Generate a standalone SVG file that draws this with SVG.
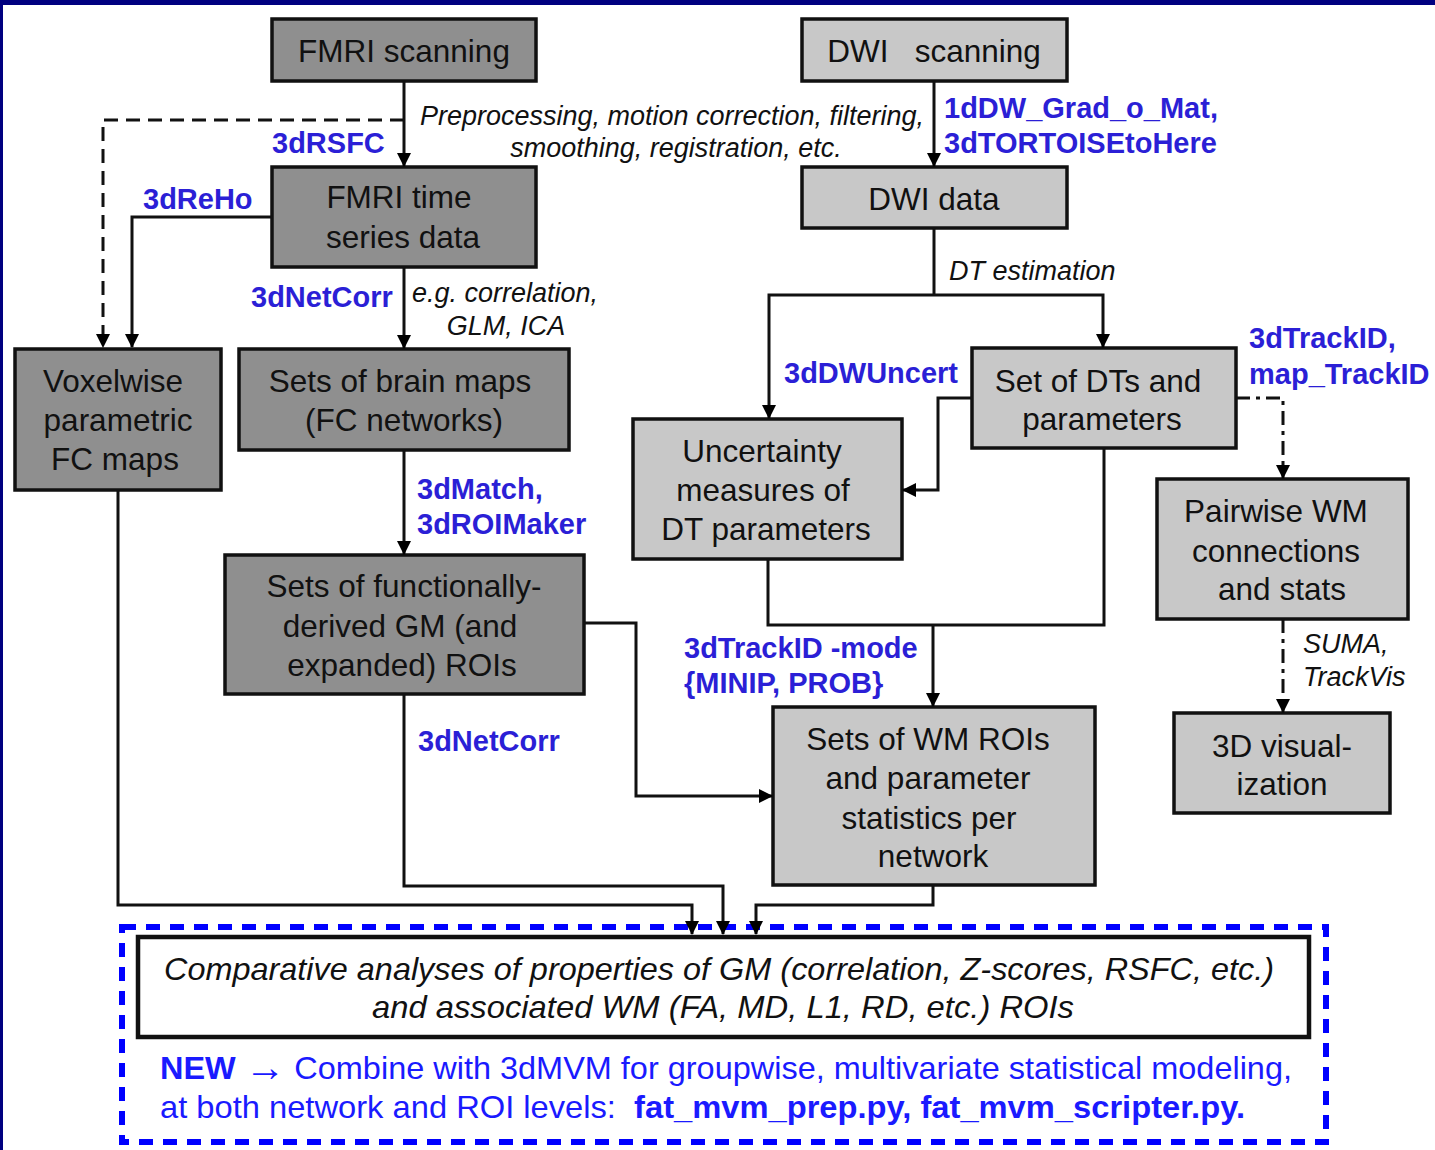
<svg xmlns="http://www.w3.org/2000/svg" width="1435" height="1150" viewBox="0 0 1435 1150">
<defs>
<marker id="ah" markerUnits="userSpaceOnUse" markerWidth="14" markerHeight="14" refX="13" refY="7" orient="auto">
<path d="M0,0 L14,7 L0,14 z" fill="#000"/>
</marker>
<style>
.dk{fill:#8f8f8f;stroke:#111;stroke-width:3.5}
.lt{fill:#c8c8c8;stroke:#111;stroke-width:3.5}
.bt{font-family:"Liberation Sans",Arial,sans-serif;font-size:31.5px;fill:#111;text-anchor:middle}
.lb{font-family:"Liberation Sans",Arial,sans-serif;font-size:29px;font-weight:bold;fill:#2b1fd6}
.it{font-family:"Liberation Sans",Arial,sans-serif;font-size:27px;font-style:italic;fill:#111}
.ln{fill:none;stroke:#111;stroke-width:3}
.ar{marker-end:url(#ah)}
.da{stroke-dasharray:14,8}
.dd{stroke-dasharray:14,6,4,6}
</style>
</defs>
<rect x="0" y="0" width="1435" height="1150" fill="#fff"/>
<rect x="0" y="0" width="1435" height="5" fill="#000080"/>
<rect x="0" y="0" width="3" height="1150" fill="#000080"/>

<rect x="122" y="927" width="1204" height="215" fill="none" stroke="#0000ff" stroke-width="6" stroke-dasharray="14,10"/>

<g id="fmri-scanning"><rect class="dk" x="272" y="19" width="264" height="62"/><text class="bt" x="404" y="62">FMRI scanning</text></g>
<g id="dwi-scanning"><rect class="lt" x="802" y="19" width="265" height="62"/><text class="bt" x="934" y="62" style="white-space:pre">DWI   scanning</text></g>
<g id="fmri-time"><rect class="dk" x="272" y="167" width="264" height="100"/><text class="bt" x="399" y="208">FMRI time</text><text class="bt" x="403" y="248">series data</text></g>
<g id="dwi-data"><rect class="lt" x="802" y="167" width="265" height="61"/><text class="bt" x="934" y="210">DWI data</text></g>
<g id="voxelwise"><rect class="dk" x="15" y="349" width="206" height="141"/><text class="bt" x="113" y="392">Voxelwise</text><text class="bt" x="118" y="431">parametric</text><text class="bt" x="115" y="470">FC maps</text></g>
<g id="brain-maps"><rect class="dk" x="239" y="349" width="330" height="101"/><text class="bt" x="400" y="392">Sets of brain maps</text><text class="bt" x="404" y="431">(FC networks)</text></g>
<g id="dts"><rect class="lt" x="972" y="348" width="264" height="100"/><text class="bt" x="1098" y="392">Set of DTs and</text><text class="bt" x="1102" y="430">parameters</text></g>
<g id="uncertainty"><rect class="lt" x="633" y="419" width="269" height="140"/><text class="bt" x="762" y="462">Uncertainty</text><text class="bt" x="763" y="501">measures of</text><text class="bt" x="766" y="540">DT parameters</text></g>
<g id="pairwise"><rect class="lt" x="1157" y="479" width="251" height="140"/><text class="bt" x="1276" y="522">Pairwise WM</text><text class="bt" x="1276" y="562">connections</text><text class="bt" x="1282" y="600">and stats</text></g>
<g id="func-rois"><rect class="dk" x="225" y="555" width="359" height="139"/><text class="bt" x="404" y="597">Sets of functionally-</text><text class="bt" x="400" y="637">derived GM (and</text><text class="bt" x="402" y="676">expanded) ROIs</text></g>
<g id="wm-rois"><rect class="lt" x="773" y="707" width="322" height="178"/><text class="bt" x="928" y="750">Sets of WM ROIs</text><text class="bt" x="928" y="789">and parameter</text><text class="bt" x="929" y="829">statistics per</text><text class="bt" x="933" y="867">network</text></g>
<g id="vis3d"><rect class="lt" x="1174" y="713" width="216" height="100"/><text class="bt" x="1282" y="757">3D visual-</text><text class="bt" x="1282" y="795">ization</text></g>
<g id="comparative"><rect x="138" y="937" width="1171" height="100" fill="#fff" stroke="#111" stroke-width="4.5"/><text class="bt" x="719" y="980" style="font-style:italic;font-size:32px" textLength="1110" lengthAdjust="spacingAndGlyphs">Comparative analyses of properties of GM (correlation, Z-scores, RSFC, etc.)</text><text class="bt" x="723" y="1018" style="font-style:italic;font-size:32px" textLength="702" lengthAdjust="spacingAndGlyphs">and associated WM (FA, MD, L1, RD, etc.) ROIs</text></g>

<g id="connectors">
<path class="ln ar" d="M404,81 V166"/>
<path class="ln ar da" d="M404,120 H103 V347"/>
<path class="ln ar" d="M272,217 H132 V347"/>
<path class="ln ar" d="M404,267 V348"/>
<path class="ln ar" d="M404,450 V554"/>
<path class="ln ar" d="M934,81 V166"/>
<path class="ln" d="M934,228 V295"/>
<path class="ln ar" d="M934,295 H769 V418"/>
<path class="ln ar" d="M934,295 H1103 V347"/>
<path class="ln ar" d="M972,398 H938 V490 H903"/>
<path class="ln ar dd" d="M1236,398 H1283 V478"/>
<path class="ln" d="M768,559 V625 H1104 V448"/>
<path class="ln ar" d="M933,625 V706"/>
<path class="ln ar" d="M584,623 H636 V796 H772"/>
<path class="ln ar dd" d="M1283,619 V712"/>
<path class="ln ar" d="M118,490 V905 H692 V934"/>
<path class="ln ar" d="M404,694 V886 H723 V934"/>
<path class="ln ar" d="M933,885 V905 H756 V934"/>
</g>

<g id="labels">
<text class="lb" x="272" y="153">3dRSFC</text>
<text class="lb" x="143" y="209">3dReHo</text>
<text class="lb" x="251" y="307">3dNetCorr</text>
<text class="lb" x="417" y="499">3dMatch,</text>
<text class="lb" x="417" y="534">3dROIMaker</text>
<text class="lb" x="418" y="751">3dNetCorr</text>
<text class="lb" x="944" y="118">1dDW_Grad_o_Mat,</text>
<text class="lb" x="944" y="153">3dTORTOISEtoHere</text>
<text class="lb" x="784" y="383">3dDWUncert</text>
<text class="lb" x="1249" y="348">3dTrackID,</text>
<text class="lb" x="1249" y="384">map_TrackID</text>
<text class="lb" x="684" y="658">3dTrackID -mode</text>
<text class="lb" x="684" y="693">{MINIP, PROB}</text>
<text class="it" x="672" y="125" text-anchor="middle">Preprocessing, motion correction, filtering,</text>
<text class="it" x="676" y="157" text-anchor="middle">smoothing, registration, etc.</text>
<text class="it" x="505" y="302" text-anchor="middle">e.g. correlation,</text>
<text class="it" x="506" y="335" text-anchor="middle">GLM, ICA</text>
<text class="it" x="949" y="280">DT estimation</text>
<text class="it" x="1303" y="653">SUMA,</text>
<text class="it" x="1303" y="686">TrackVis</text>
<text x="160" y="1079" font-family="'Liberation Sans',Arial,sans-serif" font-size="32" fill="#1a1aff" textLength="1132" lengthAdjust="spacingAndGlyphs"><tspan font-weight="bold">NEW</tspan> <tspan font-size="40" dy="2">→</tspan><tspan dy="-2"> Combine with 3dMVM for groupwise, multivariate statistical modeling,</tspan></text>
<text x="160" y="1118" font-family="'Liberation Sans',Arial,sans-serif" font-size="32" fill="#1a1aff" style="white-space:pre" textLength="1085" lengthAdjust="spacingAndGlyphs">at both network and ROI levels:  <tspan font-weight="bold">fat_mvm_prep.py, fat_mvm_scripter.py.</tspan></text>
</g>
</svg>
